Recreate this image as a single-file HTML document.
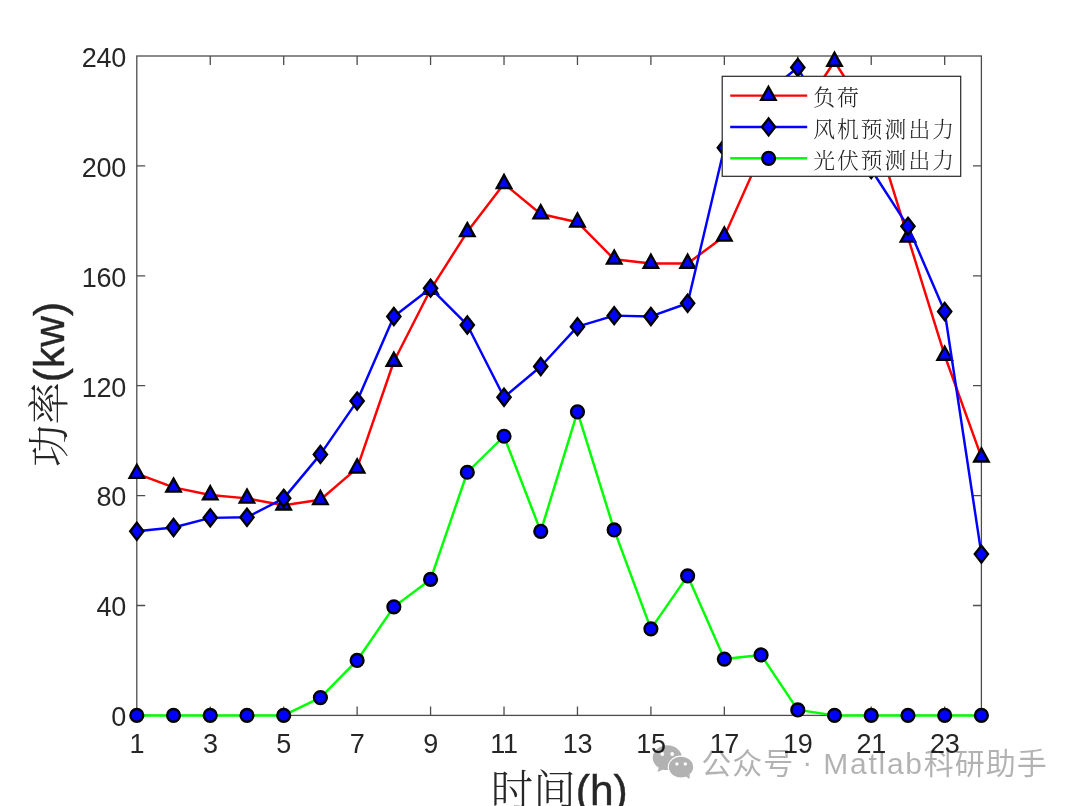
<!DOCTYPE html>
<html lang="zh"><head><meta charset="utf-8"><title>功率-时间</title>
<style>html,body{margin:0;padding:0;background:#fff;}body{width:1080px;height:806px;overflow:hidden;position:relative;}svg{display:block;position:absolute;left:0;top:0;}.tk{font-family:"Liberation Sans",sans-serif;font-size:27px;letter-spacing:-0.3px;fill:#262626;}.lab{font-family:"Liberation Sans","Noto Serif CJK SC",serif;font-size:42.5px;fill:#262626;}.lab{stroke:#262626;stroke-width:0.4px;}.cj{font-family:"Noto Serif CJK SC",serif;font-weight:300;stroke:none;}.lg{font-family:"Liberation Serif","Noto Serif CJK SC",serif;font-weight:300;font-size:21.8px;letter-spacing:2.0px;fill:#222;}.wm{font-family:"Liberation Sans","Noto Sans CJK SC",sans-serif;font-size:30px;fill:#000;fill-opacity:0.3;letter-spacing:1.0px;}</style></head><body>
<svg width="1080" height="806" viewBox="0 0 1080 806">
<rect x="0" y="0" width="1080" height="806" fill="#fff"/>
<g stroke="#4d4d4d" stroke-width="1.3" fill="none">
<rect x="136.80" y="56.00" width="844.60" height="659.40"/>
<path d="M210.24 715.40v-9.00M210.24 56.00v9.00"/>
<path d="M283.69 715.40v-9.00M283.69 56.00v9.00"/>
<path d="M357.13 715.40v-9.00M357.13 56.00v9.00"/>
<path d="M430.57 715.40v-9.00M430.57 56.00v9.00"/>
<path d="M504.02 715.40v-9.00M504.02 56.00v9.00"/>
<path d="M577.46 715.40v-9.00M577.46 56.00v9.00"/>
<path d="M650.90 715.40v-9.00M650.90 56.00v9.00"/>
<path d="M724.35 715.40v-9.00M724.35 56.00v9.00"/>
<path d="M797.79 715.40v-9.00M797.79 56.00v9.00"/>
<path d="M871.23 715.40v-9.00M871.23 56.00v9.00"/>
<path d="M944.68 715.40v-9.00M944.68 56.00v9.00"/>
<path d="M136.80 605.50h8.40M981.40 605.50h-8.40"/>
<path d="M136.80 495.60h8.40M981.40 495.60h-8.40"/>
<path d="M136.80 385.70h8.40M981.40 385.70h-8.40"/>
<path d="M136.80 275.80h8.40M981.40 275.80h-8.40"/>
<path d="M136.80 165.90h8.40M981.40 165.90h-8.40"/>
</g>
<g class="tk">
<text x="136.80" y="752.6" text-anchor="middle">1</text>
<text x="210.24" y="752.6" text-anchor="middle">3</text>
<text x="283.69" y="752.6" text-anchor="middle">5</text>
<text x="357.13" y="752.6" text-anchor="middle">7</text>
<text x="430.57" y="752.6" text-anchor="middle">9</text>
<text x="504.02" y="752.6" text-anchor="middle">11</text>
<text x="577.46" y="752.6" text-anchor="middle">13</text>
<text x="650.90" y="752.6" text-anchor="middle">15</text>
<text x="724.35" y="752.6" text-anchor="middle">17</text>
<text x="797.79" y="752.6" text-anchor="middle">19</text>
<text x="871.23" y="752.6" text-anchor="middle">21</text>
<text x="944.68" y="752.6" text-anchor="middle">23</text>
<text x="126.0" y="726.20" text-anchor="end">0</text>
<text x="126.0" y="616.30" text-anchor="end">40</text>
<text x="126.0" y="506.40" text-anchor="end">80</text>
<text x="126.0" y="396.50" text-anchor="end">120</text>
<text x="126.0" y="286.60" text-anchor="end">160</text>
<text x="126.0" y="176.70" text-anchor="end">200</text>
<text x="126.0" y="66.80" text-anchor="end">240</text>
</g>
<text class="lab" x="559.3" y="805" text-anchor="middle"><tspan class="cj">时间</tspan>(h)</text>
<text class="lab" transform="translate(64.3 384.5) rotate(-90)" text-anchor="middle"><tspan class="cj">功率</tspan>(kw)</text>
<polyline points="136.80,473.62 173.52,487.36 210.24,495.05 246.97,498.35 283.69,505.22 320.41,499.72 357.13,468.12 393.85,361.52 430.57,289.54 467.30,231.84 504.02,183.76 540.74,213.98 577.46,222.22 614.18,259.31 650.90,263.44 687.63,263.44 724.35,236.24 761.07,154.09 797.79,116.45 834.51,61.50 871.23,119.19 907.96,237.34 944.68,355.48 981.40,457.13" fill="none" stroke="#ff0000" stroke-width="2.45" stroke-linejoin="round"/>
<g fill="#0000ff" stroke="#000" stroke-width="2.40" stroke-linejoin="miter">
<path d="M136.80 464.92L144.00 477.92L129.60 477.92Z"/>
<path d="M173.52 478.66L180.72 491.66L166.32 491.66Z"/>
<path d="M210.24 486.35L217.44 499.35L203.04 499.35Z"/>
<path d="M246.97 489.65L254.17 502.65L239.77 502.65Z"/>
<path d="M283.69 496.52L290.89 509.52L276.49 509.52Z"/>
<path d="M320.41 491.02L327.61 504.02L313.21 504.02Z"/>
<path d="M357.13 459.43L364.33 472.43L349.93 472.43Z"/>
<path d="M393.85 352.82L401.05 365.82L386.65 365.82Z"/>
<path d="M430.57 280.84L437.77 293.84L423.37 293.84Z"/>
<path d="M467.30 223.14L474.50 236.14L460.10 236.14Z"/>
<path d="M504.02 175.06L511.22 188.06L496.82 188.06Z"/>
<path d="M540.74 205.28L547.94 218.28L533.54 218.28Z"/>
<path d="M577.46 213.52L584.66 226.52L570.26 226.52Z"/>
<path d="M614.18 250.62L621.38 263.62L606.98 263.62Z"/>
<path d="M650.90 254.74L658.10 267.74L643.70 267.74Z"/>
<path d="M687.63 254.74L694.83 267.74L680.43 267.74Z"/>
<path d="M724.35 227.54L731.55 240.54L717.15 240.54Z"/>
<path d="M761.07 145.39L768.27 158.39L753.87 158.39Z"/>
<path d="M797.79 107.75L804.99 120.75L790.59 120.75Z"/>
<path d="M834.51 52.80L841.71 65.80L827.31 65.80Z"/>
<path d="M871.23 110.49L878.43 123.49L864.03 123.49Z"/>
<path d="M907.96 228.64L915.16 241.64L900.76 241.64Z"/>
<path d="M944.68 346.78L951.88 359.78L937.48 359.78Z"/>
<path d="M981.40 448.44L988.60 461.44L974.20 461.44Z"/>
</g>
<polyline points="136.80,531.32 173.52,527.47 210.24,517.85 246.97,517.31 283.69,498.35 320.41,454.39 357.13,401.09 393.85,316.46 430.57,288.16 467.30,324.98 504.02,397.24 540.74,366.47 577.46,326.63 614.18,315.64 650.90,316.46 687.63,303.27 724.35,147.77 761.07,97.21 797.79,67.54 834.51,135.68 871.23,169.47 907.96,226.34 944.68,311.52 981.40,554.12" fill="none" stroke="#0000ff" stroke-width="2.45" stroke-linejoin="round"/>
<g fill="#0000ff" stroke="#000" stroke-width="2.40" stroke-linejoin="miter">
<path d="M136.80 522.82L143.40 531.32L136.80 539.82L130.20 531.32Z"/>
<path d="M173.52 518.97L180.12 527.47L173.52 535.97L166.92 527.47Z"/>
<path d="M210.24 509.35L216.84 517.85L210.24 526.35L203.64 517.85Z"/>
<path d="M246.97 508.81L253.57 517.31L246.97 525.81L240.37 517.31Z"/>
<path d="M283.69 489.85L290.29 498.35L283.69 506.85L277.09 498.35Z"/>
<path d="M320.41 445.89L327.01 454.39L320.41 462.89L313.81 454.39Z"/>
<path d="M357.13 392.59L363.73 401.09L357.13 409.59L350.53 401.09Z"/>
<path d="M393.85 307.96L400.45 316.46L393.85 324.96L387.25 316.46Z"/>
<path d="M430.57 279.66L437.17 288.16L430.57 296.66L423.97 288.16Z"/>
<path d="M467.30 316.48L473.90 324.98L467.30 333.48L460.70 324.98Z"/>
<path d="M504.02 388.74L510.62 397.24L504.02 405.74L497.42 397.24Z"/>
<path d="M540.74 357.97L547.34 366.47L540.74 374.97L534.14 366.47Z"/>
<path d="M577.46 318.13L584.06 326.63L577.46 335.13L570.86 326.63Z"/>
<path d="M614.18 307.14L620.78 315.64L614.18 324.14L607.58 315.64Z"/>
<path d="M650.90 307.96L657.50 316.46L650.90 324.96L644.30 316.46Z"/>
<path d="M687.63 294.77L694.23 303.27L687.63 311.77L681.03 303.27Z"/>
<path d="M724.35 139.27L730.95 147.77L724.35 156.27L717.75 147.77Z"/>
<path d="M761.07 88.71L767.67 97.21L761.07 105.71L754.47 97.21Z"/>
<path d="M797.79 59.04L804.39 67.54L797.79 76.04L791.19 67.54Z"/>
<path d="M834.51 127.18L841.11 135.68L834.51 144.18L827.91 135.68Z"/>
<path d="M871.23 160.97L877.83 169.47L871.23 177.97L864.63 169.47Z"/>
<path d="M907.96 217.84L914.56 226.34L907.96 234.84L901.36 226.34Z"/>
<path d="M944.68 303.02L951.28 311.52L944.68 320.02L938.08 311.52Z"/>
<path d="M981.40 545.62L988.00 554.12L981.40 562.62L974.80 554.12Z"/>
</g>
<polyline points="136.80,715.40 173.52,715.40 210.24,715.40 246.97,715.40 283.69,715.40 320.41,697.54 357.13,660.45 393.85,606.87 430.57,579.40 467.30,472.25 504.02,436.25 540.74,531.32 577.46,411.80 614.18,529.94 650.90,628.85 687.63,575.83 724.35,659.08 761.07,654.95 797.79,709.90 834.51,715.40 871.23,715.40 907.96,715.40 944.68,715.40 981.40,715.40" fill="none" stroke="#00ff00" stroke-width="2.45" stroke-linejoin="round"/>
<g fill="#0000ff" stroke="#000" stroke-width="2.40" stroke-linejoin="miter">
<circle cx="136.80" cy="715.40" r="6.40"/>
<circle cx="173.52" cy="715.40" r="6.40"/>
<circle cx="210.24" cy="715.40" r="6.40"/>
<circle cx="246.97" cy="715.40" r="6.40"/>
<circle cx="283.69" cy="715.40" r="6.40"/>
<circle cx="320.41" cy="697.54" r="6.40"/>
<circle cx="357.13" cy="660.45" r="6.40"/>
<circle cx="393.85" cy="606.87" r="6.40"/>
<circle cx="430.57" cy="579.40" r="6.40"/>
<circle cx="467.30" cy="472.25" r="6.40"/>
<circle cx="504.02" cy="436.25" r="6.40"/>
<circle cx="540.74" cy="531.32" r="6.40"/>
<circle cx="577.46" cy="411.80" r="6.40"/>
<circle cx="614.18" cy="529.94" r="6.40"/>
<circle cx="650.90" cy="628.85" r="6.40"/>
<circle cx="687.63" cy="575.83" r="6.40"/>
<circle cx="724.35" cy="659.08" r="6.40"/>
<circle cx="761.07" cy="654.95" r="6.40"/>
<circle cx="797.79" cy="709.90" r="6.40"/>
<circle cx="834.51" cy="715.40" r="6.40"/>
<circle cx="871.23" cy="715.40" r="6.40"/>
<circle cx="907.96" cy="715.40" r="6.40"/>
<circle cx="944.68" cy="715.40" r="6.40"/>
<circle cx="981.40" cy="715.40" r="6.40"/>
</g>
<rect x="722.2" y="76.3" width="238.5" height="100.0" fill="#fff" stroke="#262626" stroke-width="1.2"/>
<path d="M730.2 95.60H807.2" stroke="#ff0000" stroke-width="2.45" fill="none"/>
<path d="M730.2 126.90H807.2" stroke="#0000ff" stroke-width="2.45" fill="none"/>
<path d="M730.2 158.30H807.2" stroke="#00ff00" stroke-width="2.45" fill="none"/>
<g fill="#0000ff" stroke="#000" stroke-width="2.40" stroke-linejoin="miter">
<path d="M768.40 86.90L775.60 99.90L761.20 99.90Z"/>
<path d="M768.60 118.40L775.20 126.90L768.60 135.40L762.00 126.90Z"/>
<circle cx="768.60" cy="158.30" r="6.40"/>
</g>
<text class="lg" x="813.2" y="105.40">负荷</text>
<text class="lg" x="813.2" y="136.70">风机预测出力</text>
<text class="lg" x="813.2" y="168.10">光伏预测出力</text>
<defs><mask id="m1" maskUnits="userSpaceOnUse" x="640" y="730" width="70" height="60"><rect x="640" y="730" width="70" height="60" fill="#fff"/><circle cx="662.3" cy="754" r="1.9" fill="#000"/><circle cx="672.2" cy="754" r="1.9" fill="#000"/><ellipse cx="681" cy="767.1" rx="13.3" ry="11.5" fill="#000"/></mask><mask id="m2" maskUnits="userSpaceOnUse" x="640" y="730" width="70" height="60"><rect x="640" y="730" width="70" height="60" fill="#fff"/><circle cx="676.9" cy="763.9" r="1.7" fill="#000"/><circle cx="685.3" cy="763.9" r="1.7" fill="#000"/></mask></defs>
<g fill="#000" fill-opacity="0.3">
<path mask="url(#m1)" d="M652.7 757.7a14.6 12.4 0 1 1 29.2 0a14.6 12.4 0 1 1 -29.2 0ZM658.9 767.6L663.4 769.4L657.3 771.9Z"/>
<path mask="url(#m2)" d="M668.8 767.1a12.2 10.4 0 1 1 24.4 0a12.2 10.4 0 1 1 -24.4 0ZM685.8 776.2L690 775L689.2 778.9Z"/>
</g>
<text class="wm" x="701.3" y="774.2">公众号 <tspan dx="-1.5" dy="-2.6">·</tspan><tspan dy="2.6" letter-spacing="1.75"> Matlab</tspan>科研助手</text>
</svg></body></html>
